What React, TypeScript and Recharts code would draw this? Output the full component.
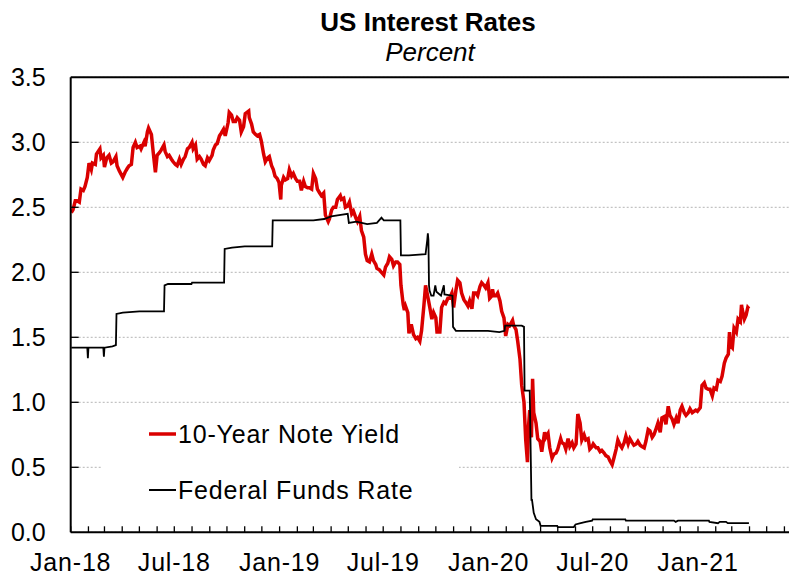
import React from "react";
import {
  LineChart,
  Line,
  XAxis,
  YAxis,
  CartesianGrid,
  ReferenceLine,
  Legend,
} from "recharts";

type Obs = [string, number];

// 10-year Treasury note yield, percent
const yield2018: Obs[] = [
  ["2018-01-02", 2.46], ["2018-01-05", 2.48], ["2018-01-09", 2.55], ["2018-01-12", 2.55],
  ["2018-01-16", 2.54], ["2018-01-19", 2.64], ["2018-01-23", 2.63], ["2018-01-26", 2.66],
  ["2018-01-30", 2.73], ["2018-02-02", 2.84], ["2018-02-06", 2.79], ["2018-02-08", 2.84],
  ["2018-02-13", 2.83], ["2018-02-15", 2.91], ["2018-02-21", 2.95], ["2018-02-23", 2.88],
  ["2018-02-27", 2.9], ["2018-03-01", 2.81], ["2018-03-05", 2.88], ["2018-03-09", 2.9],
  ["2018-03-13", 2.84], ["2018-03-16", 2.85], ["2018-03-21", 2.89], ["2018-03-23", 2.82],
  ["2018-03-27", 2.78], ["2018-04-02", 2.73], ["2018-04-06", 2.77], ["2018-04-10", 2.8],
  ["2018-04-13", 2.82], ["2018-04-17", 2.83], ["2018-04-20", 2.96], ["2018-04-24", 3.0],
  ["2018-04-27", 2.96], ["2018-05-02", 2.97], ["2018-05-04", 2.95], ["2018-05-09", 3.0],
  ["2018-05-11", 2.97], ["2018-05-15", 3.08], ["2018-05-17", 3.11], ["2018-05-22", 3.06],
  ["2018-05-25", 2.93], ["2018-05-29", 2.77], ["2018-06-01", 2.9], ["2018-06-05", 2.92],
  ["2018-06-08", 2.94], ["2018-06-13", 2.98], ["2018-06-15", 2.93], ["2018-06-19", 2.89],
  ["2018-06-22", 2.9], ["2018-06-26", 2.87], ["2018-06-29", 2.85], ["2018-07-03", 2.83],
  ["2018-07-06", 2.82], ["2018-07-10", 2.87], ["2018-07-13", 2.83], ["2018-07-17", 2.87],
  ["2018-07-20", 2.89], ["2018-07-24", 2.95], ["2018-07-27", 2.96], ["2018-08-01", 3.0],
  ["2018-08-03", 2.95], ["2018-08-07", 2.98], ["2018-08-10", 2.87], ["2018-08-14", 2.89],
  ["2018-08-17", 2.87], ["2018-08-21", 2.83], ["2018-08-24", 2.82], ["2018-08-28", 2.88],
  ["2018-08-31", 2.86], ["2018-09-05", 2.9], ["2018-09-07", 2.94], ["2018-09-11", 2.98],
  ["2018-09-14", 2.99], ["2018-09-18", 3.05], ["2018-09-21", 3.07], ["2018-09-25", 3.1],
  ["2018-09-28", 3.05], ["2018-10-03", 3.15], ["2018-10-05", 3.23], ["2018-10-09", 3.21],
  ["2018-10-12", 3.16], ["2018-10-16", 3.16], ["2018-10-19", 3.19], ["2018-10-23", 3.17],
  ["2018-10-26", 3.08], ["2018-10-30", 3.12], ["2018-11-02", 3.22], ["2018-11-08", 3.24],
  ["2018-11-09", 3.19], ["2018-11-13", 3.14], ["2018-11-16", 3.08], ["2018-11-20", 3.06],
  ["2018-11-23", 3.05], ["2018-11-27", 3.06], ["2018-11-30", 3.01], ["2018-12-04", 2.91],
  ["2018-12-07", 2.85], ["2018-12-11", 2.88], ["2018-12-14", 2.89], ["2018-12-18", 2.82],
  ["2018-12-21", 2.79], ["2018-12-24", 2.74], ["2018-12-28", 2.72], ["2018-12-31", 2.69],
];

const yield2019: Obs[] = [
  ["2019-01-03", 2.56], ["2019-01-04", 2.67], ["2019-01-08", 2.73], ["2019-01-11", 2.71],
  ["2019-01-15", 2.72], ["2019-01-18", 2.79], ["2019-01-22", 2.74], ["2019-01-25", 2.76],
  ["2019-01-29", 2.72], ["2019-02-01", 2.7], ["2019-02-05", 2.7], ["2019-02-08", 2.63],
  ["2019-02-12", 2.7], ["2019-02-15", 2.66], ["2019-02-19", 2.65], ["2019-02-22", 2.65],
  ["2019-02-26", 2.64], ["2019-03-01", 2.76], ["2019-03-05", 2.72], ["2019-03-08", 2.64],
  ["2019-03-12", 2.61], ["2019-03-15", 2.59], ["2019-03-19", 2.61], ["2019-03-22", 2.44],
  ["2019-03-27", 2.39], ["2019-03-29", 2.41], ["2019-04-02", 2.48], ["2019-04-05", 2.5],
  ["2019-04-09", 2.5], ["2019-04-12", 2.56], ["2019-04-17", 2.59], ["2019-04-19", 2.56],
  ["2019-04-23", 2.57], ["2019-04-26", 2.5], ["2019-04-30", 2.51], ["2019-05-03", 2.54],
  ["2019-05-07", 2.45], ["2019-05-10", 2.47], ["2019-05-14", 2.42], ["2019-05-17", 2.39],
  ["2019-05-21", 2.43], ["2019-05-24", 2.32], ["2019-05-28", 2.27], ["2019-05-31", 2.14],
  ["2019-06-03", 2.09], ["2019-06-07", 2.08], ["2019-06-11", 2.14], ["2019-06-14", 2.09],
  ["2019-06-18", 2.06], ["2019-06-20", 2.03], ["2019-06-24", 2.02], ["2019-06-28", 2.0],
  ["2019-07-02", 1.98], ["2019-07-05", 2.04], ["2019-07-09", 2.07], ["2019-07-12", 2.12],
  ["2019-07-16", 2.1], ["2019-07-19", 2.05], ["2019-07-23", 2.08], ["2019-07-26", 2.08],
  ["2019-07-30", 2.06], ["2019-08-01", 1.9], ["2019-08-05", 1.75], ["2019-08-07", 1.71],
  ["2019-08-09", 1.74], ["2019-08-13", 1.69], ["2019-08-15", 1.53], ["2019-08-19", 1.6],
  ["2019-08-23", 1.52], ["2019-08-27", 1.49], ["2019-08-30", 1.5], ["2019-09-03", 1.47],
  ["2019-09-06", 1.55], ["2019-09-10", 1.74], ["2019-09-13", 1.9], ["2019-09-17", 1.81],
  ["2019-09-20", 1.74], ["2019-09-24", 1.64], ["2019-09-27", 1.69], ["2019-10-01", 1.65],
  ["2019-10-03", 1.54], ["2019-10-08", 1.54], ["2019-10-11", 1.73], ["2019-10-15", 1.77],
  ["2019-10-18", 1.76], ["2019-10-22", 1.8], ["2019-10-25", 1.8], ["2019-10-29", 1.84],
  ["2019-11-01", 1.73], ["2019-11-05", 1.86], ["2019-11-08", 1.94], ["2019-11-12", 1.92],
  ["2019-11-15", 1.84], ["2019-11-19", 1.79], ["2019-11-22", 1.77], ["2019-11-26", 1.74],
  ["2019-11-29", 1.78], ["2019-12-03", 1.72], ["2019-12-06", 1.84], ["2019-12-10", 1.84],
  ["2019-12-13", 1.82], ["2019-12-17", 1.89], ["2019-12-20", 1.92], ["2019-12-24", 1.9],
  ["2019-12-27", 1.88], ["2019-12-31", 1.92],
];

const yield2020: Obs[] = [
  ["2020-01-03", 1.8], ["2020-01-07", 1.82], ["2020-01-08", 1.87], ["2020-01-10", 1.82],
  ["2020-01-14", 1.82], ["2020-01-17", 1.84], ["2020-01-21", 1.78], ["2020-01-24", 1.7],
  ["2020-01-28", 1.65], ["2020-01-31", 1.51], ["2020-02-04", 1.6], ["2020-02-07", 1.59],
  ["2020-02-12", 1.63], ["2020-02-14", 1.59], ["2020-02-18", 1.56], ["2020-02-21", 1.47],
  ["2020-02-25", 1.33], ["2020-02-28", 1.13], ["2020-03-03", 1.0], ["2020-03-06", 0.71],
  ["2020-03-09", 0.54], ["2020-03-11", 0.82], ["2020-03-13", 0.94], ["2020-03-16", 0.73],
  ["2020-03-18", 1.18], ["2020-03-20", 0.92], ["2020-03-24", 0.84], ["2020-03-27", 0.72],
  ["2020-03-31", 0.7], ["2020-04-03", 0.62], ["2020-04-08", 0.77], ["2020-04-10", 0.73],
  ["2020-04-14", 0.76], ["2020-04-17", 0.65], ["2020-04-21", 0.57], ["2020-04-24", 0.6],
  ["2020-04-28", 0.61], ["2020-05-01", 0.64], ["2020-05-06", 0.72], ["2020-05-08", 0.69],
  ["2020-05-12", 0.68], ["2020-05-15", 0.64], ["2020-05-19", 0.72], ["2020-05-22", 0.66],
  ["2020-05-26", 0.69], ["2020-05-29", 0.65], ["2020-06-02", 0.68], ["2020-06-05", 0.91],
  ["2020-06-09", 0.84], ["2020-06-12", 0.71], ["2020-06-16", 0.75], ["2020-06-19", 0.71],
  ["2020-06-23", 0.72], ["2020-06-26", 0.64], ["2020-06-30", 0.66], ["2020-07-02", 0.68],
  ["2020-07-07", 0.65], ["2020-07-10", 0.65], ["2020-07-14", 0.62], ["2020-07-17", 0.63],
  ["2020-07-21", 0.61], ["2020-07-24", 0.59], ["2020-07-28", 0.58], ["2020-07-31", 0.55],
  ["2020-08-04", 0.52], ["2020-08-07", 0.57], ["2020-08-11", 0.64], ["2020-08-14", 0.71],
  ["2020-08-18", 0.67], ["2020-08-21", 0.65], ["2020-08-25", 0.69], ["2020-08-28", 0.74],
  ["2020-09-01", 0.68], ["2020-09-04", 0.72], ["2020-09-08", 0.69], ["2020-09-11", 0.67],
  ["2020-09-15", 0.68], ["2020-09-18", 0.7], ["2020-09-22", 0.67], ["2020-09-25", 0.66],
  ["2020-09-29", 0.65], ["2020-10-02", 0.7], ["2020-10-06", 0.79], ["2020-10-09", 0.78],
  ["2020-10-13", 0.73], ["2020-10-16", 0.75], ["2020-10-20", 0.8], ["2020-10-23", 0.84],
  ["2020-10-27", 0.77], ["2020-10-30", 0.88], ["2020-11-03", 0.89], ["2020-11-06", 0.83],
  ["2020-11-10", 0.97], ["2020-11-13", 0.9], ["2020-11-17", 0.87], ["2020-11-20", 0.83],
  ["2020-11-24", 0.88], ["2020-11-27", 0.84], ["2020-12-01", 0.94], ["2020-12-04", 0.97],
  ["2020-12-08", 0.92], ["2020-12-11", 0.9], ["2020-12-15", 0.92], ["2020-12-18", 0.95],
  ["2020-12-22", 0.92], ["2020-12-28", 0.94], ["2020-12-31", 0.93],
];

const yield2021: Obs[] = [
  ["2021-01-05", 0.96], ["2021-01-08", 1.13], ["2021-01-12", 1.15], ["2021-01-15", 1.11],
  ["2021-01-19", 1.1], ["2021-01-22", 1.1], ["2021-01-26", 1.05], ["2021-01-29", 1.11],
  ["2021-02-02", 1.1], ["2021-02-05", 1.17], ["2021-02-09", 1.16], ["2021-02-12", 1.2],
  ["2021-02-16", 1.3], ["2021-02-19", 1.34], ["2021-02-23", 1.37], ["2021-02-25", 1.54],
  ["2021-02-26", 1.44], ["2021-03-02", 1.42], ["2021-03-05", 1.57], ["2021-03-09", 1.54],
  ["2021-03-12", 1.64], ["2021-03-16", 1.62], ["2021-03-18", 1.75], ["2021-03-19", 1.72],
  ["2021-03-23", 1.64], ["2021-03-26", 1.67], ["2021-03-29", 1.73], ["2021-03-31", 1.72],
];

// effective federal funds rate, percent
const funds2018: Obs[] = [
  ["2018-01-02", 1.42], ["2018-01-30", 1.42], ["2018-01-31", 1.34], ["2018-02-01", 1.42],
  ["2018-02-27", 1.42], ["2018-02-28", 1.35], ["2018-03-01", 1.42], ["2018-03-15", 1.43],
  ["2018-03-21", 1.44], ["2018-03-22", 1.68], ["2018-04-02", 1.69], ["2018-05-01", 1.7],
  ["2018-06-13", 1.7], ["2018-06-14", 1.9], ["2018-06-20", 1.91], ["2018-07-31", 1.91],
  ["2018-08-01", 1.92], ["2018-09-26", 1.92], ["2018-09-27", 2.18], ["2018-10-10", 2.19],
  ["2018-11-01", 2.2], ["2018-12-19", 2.2], ["2018-12-20", 2.4],
];

const funds2019: Obs[] = [
  ["2019-03-01", 2.4], ["2019-03-20", 2.41], ["2019-04-01", 2.43], ["2019-04-15", 2.44],
  ["2019-04-30", 2.45], ["2019-05-02", 2.38], ["2019-05-15", 2.39], ["2019-06-03", 2.37],
  ["2019-06-20", 2.38], ["2019-06-28", 2.42], ["2019-07-02", 2.4], ["2019-07-31", 2.4],
  ["2019-08-01", 2.13], ["2019-08-15", 2.13], ["2019-09-13", 2.14], ["2019-09-16", 2.25],
  ["2019-09-17", 2.3], ["2019-09-18", 2.25], ["2019-09-19", 1.9], ["2019-09-20", 1.86],
  ["2019-09-23", 1.82], ["2019-09-27", 1.82], ["2019-09-30", 1.9], ["2019-10-02", 1.85],
  ["2019-10-10", 1.82], ["2019-10-15", 1.9], ["2019-10-16", 1.83], ["2019-10-30", 1.82],
  ["2019-10-31", 1.58], ["2019-11-05", 1.55], ["2019-12-31", 1.55],
];

const funds2020: Obs[] = [
  ["2020-01-20", 1.54], ["2020-01-29", 1.55], ["2020-01-30", 1.59], ["2020-02-28", 1.59],
  ["2020-03-03", 1.58], ["2020-03-04", 1.09], ["2020-03-13", 1.09], ["2020-03-16", 0.25],
  ["2020-03-17", 0.25], ["2020-03-20", 0.15], ["2020-03-24", 0.1], ["2020-03-30", 0.08],
  ["2020-04-01", 0.05], ["2020-04-30", 0.05], ["2020-05-01", 0.04], ["2020-05-29", 0.04],
  ["2020-06-01", 0.06], ["2020-06-10", 0.07], ["2020-06-19", 0.08], ["2020-06-30", 0.09],
  ["2020-07-01", 0.1], ["2020-08-27", 0.1], ["2020-08-28", 0.09], ["2020-11-20", 0.09],
  ["2020-11-23", 0.08], ["2020-11-27", 0.09], ["2021-01-20", 0.09], ["2021-01-21", 0.08],
  ["2021-02-05", 0.07], ["2021-02-08", 0.08], ["2021-02-19", 0.08], ["2021-02-22", 0.07],
  ["2021-03-31", 0.07],
];

const yTicks = [0, 0.5, 1, 1.5, 2, 2.5, 3, 3.5];
const monthNames = ["Jan", "Feb", "Mar", "Apr", "May", "Jun", "Jul", "Aug", "Sep", "Oct", "Nov", "Dec"];

const START = Date.UTC(2018, 0, 1);
const DAY = 86400000;
const toDay = (s: string) => {
  const [y, m, d] = s.split("-").map(Number);
  return (Date.UTC(y, m - 1, d) - START) / DAY;
};

const noteData = [...yield2018, ...yield2019, ...yield2020, ...yield2021].map(([d, v]) => ({ day: toDay(d), v }));
const fundsData = [...funds2018, ...funds2019, ...funds2020].map(([d, v]) => ({ day: toDay(d), v }));

// monthly tick marks, Jan-18 .. Jun-21
const monthTicks: number[] = [];
for (let i = 0; i <= 41; i++) monthTicks.push((Date.UTC(2018, i, 1) - START) / DAY);

const FONT = "Arial, 'Liberation Sans', sans-serif";

const XTick = ({ x, y, payload }: any) => {
  const dt = new Date(START + payload.value * DAY);
  const m = dt.getUTCMonth();
  const label = m === 0 || m === 6 ? `${monthNames[m]}-${String(dt.getUTCFullYear()).slice(2)}` : "";
  return (
    <g>
      <line x1={x} x2={x} y1={y} y2={y - 6} stroke="#000" strokeWidth={1.3} />
      {label && (
        <text x={x} y={y + 38.7} textAnchor="middle" fontSize={25} fontFamily={FONT} fill="#000" letterSpacing={0.8}>
          {label}
        </text>
      )}
    </g>
  );
};

const YTick = ({ x, y, payload }: any) => (
  <g>
    {payload.value > 0 && payload.value < 3.5 && (
      <line x1={x} x2={x + 8} y1={y} y2={y} stroke="#000" strokeWidth={1.3} />
    )}
    <text x={x - 25} y={y} dy="0.36em" textAnchor="end" fontSize={25} fontFamily={FONT} fill="#000">
      {payload.value.toFixed(1)}
    </text>
  </g>
);

const LegendBox = ({ payload }: any) => (
  <svg width={357} height={106} style={{ display: "block" }}>
    <rect width={357} height={106} fill="#fff" />
    {(payload || []).map((p: any, i: number) => (
      <g key={p.value}>
        <line
          x1={47}
          x2={74}
          y1={26 + i * 56}
          y2={26 + i * 56}
          stroke={p.color}
          strokeWidth={i === 0 ? 3.5 : 2}
        />
        <text x={76} y={35.3 + i * 56} fontSize={25} fontFamily={FONT} fill="#000" letterSpacing={0.8}>
          {p.value}
        </text>
      </g>
    ))}
  </svg>
);

export default function App() {
  return (
    <div style={{ position: "absolute", left: 0, top: 0, width: 789, height: 578, background: "#fff" }}>
      <svg width={789} height={70} style={{ position: "absolute", left: 0, top: 0 }}>
        <text x={428} y={31} textAnchor="middle" fontSize={26} fontWeight="bold" fontFamily={FONT} fill="#000">
          US Interest Rates
        </text>
        <text x={430} y={61} textAnchor="middle" fontSize={26} fontStyle="italic" fontFamily={FONT} fill="#000">
          Percent
        </text>
      </svg>
      <div style={{ position: "absolute", left: 0, top: 0 }}>
        <LineChart width={789} height={578} margin={{ top: 77.3, right: 0, bottom: 0, left: 0 }}>
          <CartesianGrid vertical={false} stroke="#b4b4b4" strokeDasharray="2 2" />
          <XAxis
            type="number"
            dataKey="day"
            domain={[0, 1255]}
            ticks={monthTicks}
            interval={0}
            allowDataOverflow
            height={45.7}
            tickSize={0}
            tickMargin={0}
            tickLine={false}
            axisLine={{ stroke: "#000", strokeWidth: 2 }}
            tick={<XTick />}
          />
          <YAxis
            type="number"
            domain={[0, 3.5]}
            ticks={yTicks}
            interval={0}
            width={70.7}
            tickSize={0}
            tickMargin={0}
            tickLine={false}
            axisLine={{ stroke: "#000", strokeWidth: 2 }}
            tick={<YTick />}
          />
          <ReferenceLine y={3.5} stroke="#000" strokeWidth={2} />
          <Legend
            layout="vertical"
            align="center"
            verticalAlign="middle"
            wrapperStyle={{ left: 102, top: 408, width: 357, height: 106 }}
            content={<LegendBox />}
          />
          <Line
            data={noteData}
            dataKey="v"
            name="10-Year Note Yield"
            type="linear"
            stroke="#da0000"
            strokeWidth={3.5}
            dot={false}
            isAnimationActive={false}
          />
          <Line
            data={fundsData}
            dataKey="v"
            name="Federal Funds Rate"
            type="linear"
            stroke="#000"
            strokeWidth={1.8}
            dot={false}
            isAnimationActive={false}
          />
        </LineChart>
      </div>
    </div>
  );
}
